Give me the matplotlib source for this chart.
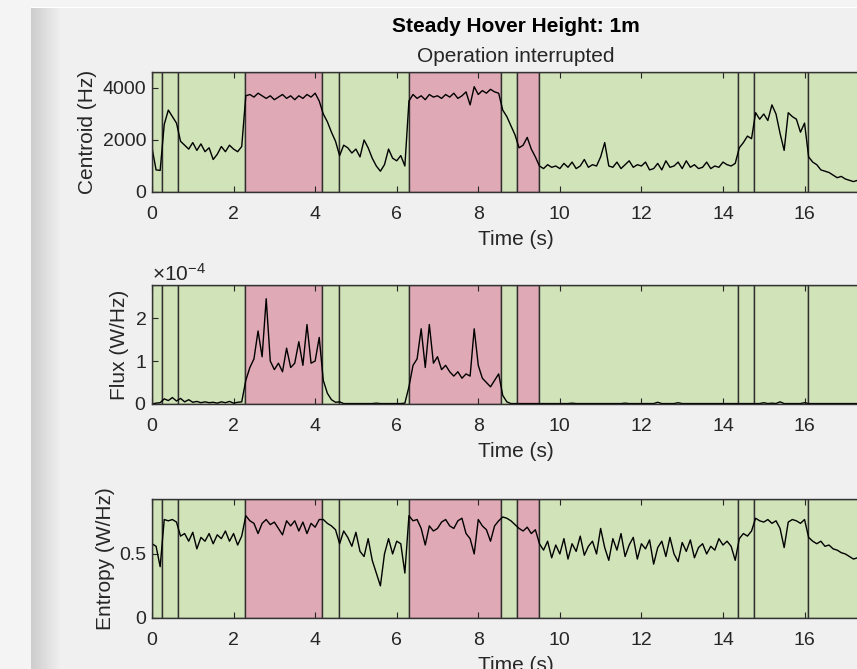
#!/usr/bin/env python
# coding: utf-8

# Steady hover: centroid, flux and entropy of the rotor noise over time,
# with the detected operating segments shaded behind each trace.

import numpy             as np
import matplotlib        as mpl
mpl.use("Agg")
import matplotlib.pyplot as plt
from matplotlib.patches import Rectangle
from matplotlib.ticker  import ScalarFormatter


# Samples every 0.1 s
dt = 0.1

centroid = [
    1700,  850,  830, 2600, 3150, 2900, 2650, 1950, 1800, 1650,
    1900, 1600, 1850, 1550, 1700, 1250, 1450, 1750, 1550, 1800,
    1650, 1550, 1750, 3700, 3750, 3650, 3800, 3700, 3600, 3700,
    3550, 3650, 3750, 3600, 3700, 3550, 3700, 3600, 3750, 3650,
    3800, 3500, 3000, 2700, 2300, 1950, 1400, 1800, 1700, 1500,
    1650, 1350, 2000, 1700, 1300, 1000,  800, 1050, 1650, 1300,
    1200, 1400, 1000, 3500, 3750, 3600, 3700, 3550, 3750, 3650,
    3700, 3600, 3750, 3650, 3800, 3600, 3700, 3850, 3350, 4050,
    3750, 3900, 3800, 3950, 3850, 3800, 3150, 2900, 2550, 2200,
    1700, 1800, 2100, 1650, 1350, 1000,  900, 1050,  950, 1000,
     900, 1100,  950, 1150,  900, 1000, 1250,  950, 1050, 1000,
    1350, 1900, 1000,  950, 1150,  900, 1050, 1200,  950, 1050,
    1000, 1150,  850,  900, 1100,  850, 1200,  950, 1000, 1150,
     900, 1200,  950, 1050,  900,  950, 1150,  900, 1000,  950,
    1150, 1050, 1000, 1100, 1700, 1900, 2150, 2050, 3050, 2800,
    3000, 2750, 3350, 3000, 2250, 1600, 3050, 2900, 2800, 2300,
    2650, 1350, 1150, 1050,  850,  800,  750,  650,  550,  600,
     500,  450,  400,  450,  400,  380,  420,  400,  380,
]

# Flux in units of 1e-4 W/Hz
flux_e4 = [
    0.00, 0.02, 0.03, 0.12, 0.08, 0.15, 0.07, 0.13, 0.05, 0.10,
    0.04, 0.06, 0.03, 0.05, 0.03, 0.04, 0.02, 0.05, 0.03, 0.06,
    0.02, 0.04, 0.05, 0.55, 0.85, 1.05, 1.70, 1.10, 2.45, 1.00,
    0.80, 0.95, 0.75, 1.30, 0.85, 0.95, 1.45, 0.90, 1.85, 0.95,
    1.00, 1.55, 0.55, 0.25, 0.10, 0.04, 0.05, 0.01, 0.01, 0.01,
    0.01, 0.01, 0.01, 0.01, 0.01, 0.02, 0.01, 0.01, 0.01, 0.01,
    0.01, 0.01, 0.02, 0.40, 0.90, 1.05, 1.75, 0.85, 1.85, 0.95,
    1.10, 0.80, 0.90, 0.75, 0.65, 0.75, 0.60, 0.70, 0.65, 1.75,
    0.90, 0.60, 0.50, 0.40, 0.55, 0.70, 0.20, 0.05, 0.01, 0.01,
    0.01, 0.01, 0.01, 0.01, 0.01, 0.01, 0.01, 0.01, 0.01, 0.01,
    0.01, 0.01, 0.01, 0.02, 0.01, 0.01, 0.01, 0.01, 0.01, 0.01,
    0.01, 0.01, 0.01, 0.01, 0.01, 0.01, 0.02, 0.01, 0.01, 0.01,
    0.01, 0.01, 0.01, 0.01, 0.04, 0.01, 0.01, 0.01, 0.01, 0.03,
    0.01, 0.01, 0.01, 0.01, 0.01, 0.01, 0.01, 0.01, 0.01, 0.01,
    0.01, 0.01, 0.01, 0.01, 0.01, 0.01, 0.01, 0.01, 0.01, 0.01,
    0.03, 0.01, 0.02, 0.01, 0.05, 0.01, 0.01, 0.01, 0.01, 0.01,
    0.03, 0.01, 0.01, 0.01, 0.01, 0.01, 0.01, 0.01, 0.01, 0.01,
    0.01, 0.01, 0.01, 0.01, 0.01, 0.01, 0.01, 0.01, 0.01,
]

entropy = [
    0.58, 0.56, 0.40, 0.77, 0.76, 0.77, 0.75, 0.64, 0.66, 0.60,
    0.67, 0.54, 0.63, 0.60, 0.66, 0.58, 0.65, 0.62, 0.68, 0.60,
    0.66, 0.57, 0.64, 0.80, 0.76, 0.74, 0.66, 0.74, 0.77, 0.73,
    0.75, 0.70, 0.65, 0.76, 0.72, 0.76, 0.68, 0.75, 0.66, 0.74,
    0.71, 0.77, 0.77, 0.74, 0.72, 0.69, 0.58, 0.68, 0.63, 0.56,
    0.67, 0.52, 0.48, 0.62, 0.45, 0.35, 0.25, 0.50, 0.62, 0.50,
    0.60, 0.58, 0.35, 0.80, 0.76, 0.77, 0.70, 0.57, 0.72, 0.68,
    0.70, 0.75, 0.77, 0.72, 0.70, 0.76, 0.78, 0.66, 0.62, 0.50,
    0.77, 0.72, 0.69, 0.60, 0.72, 0.76, 0.79, 0.78, 0.76, 0.73,
    0.70, 0.68, 0.71, 0.66, 0.69, 0.58, 0.53, 0.60, 0.47, 0.57,
    0.50, 0.62, 0.46, 0.58, 0.52, 0.64, 0.49, 0.56, 0.60, 0.50,
    0.70, 0.55, 0.45, 0.62, 0.53, 0.66, 0.48, 0.57, 0.63, 0.46,
    0.58, 0.54, 0.61, 0.42, 0.55, 0.60, 0.48, 0.63, 0.50, 0.44,
    0.59, 0.52, 0.61, 0.47, 0.55, 0.58, 0.50, 0.56, 0.53, 0.62,
    0.57, 0.60, 0.56, 0.45, 0.62, 0.66, 0.64, 0.68, 0.78, 0.76,
    0.75, 0.77, 0.74, 0.76, 0.70, 0.55, 0.75, 0.77, 0.76, 0.74,
    0.77, 0.63, 0.60, 0.58, 0.60, 0.56, 0.57, 0.54, 0.53, 0.51,
    0.50, 0.48, 0.46, 0.47, 0.45, 0.44, 0.45, 0.43, 0.42,
]

# Segment boundaries (s) and their state
seg_edges  = [0, 0.25, 0.63, 2.28, 4.16, 4.58, 6.29, 8.56, 8.94, 9.49,
              14.38, 14.75, 16.09, 17.85]
seg_states = ["ok", "ok", "ok", "fault", "ok", "ok", "fault", "ok", "fault",
              "ok", "ok", "ok", "ok"]

t = np.arange(len(centroid)) * dt

mpl.rcParams['font.family'] = ['Liberation Sans', 'DejaVu Sans']
mpl.rcParams['mathtext.fontset'] = 'custom'
mpl.rcParams['mathtext.rm'] = 'Liberation Sans'

TXT   = '#262626'
GREEN = '#d1e3b9'
PINK  = '#dfaab5'

W, H = 857, 669
fig = plt.figure(figsize=(W / 100, H / 100), dpi=100)
fig.patch.set_facecolor('#f0f0f0')

# window frame: outside strip, shadow, top highlight
bg = np.full((H, W, 3), 240 / 255.)
bg[:, :31] = 244 / 255.
bg[:7, :] = 244 / 255.
shade = np.linspace(205, 240, 30) / 255.
bg[7:, 31:61] = shade[None, :, None]
bg[7, 31:] = 1.0
ax_bg = fig.add_axes([0, 0, 1, 1], zorder=-5)
ax_bg.imshow(bg, aspect='auto', interpolation='nearest')
ax_bg.axis('off')


def px(left, top, right, bottom):
    return [left / W, 1 - bottom / H, (right - left) / W, (bottom - top) / H]


def shade_segments(ax, ymax):
    for i, state in enumerate(seg_states):
        x0, x1 = seg_edges[i], seg_edges[i + 1]
        ax.add_patch(Rectangle((x0, 0), x1 - x0, ymax,
                               facecolor=PINK if state == "fault" else GREEN,
                               edgecolor='#2f2f2f', linewidth=1.0, zorder=1))


def style(ax, ylabel, label_x):
    ax.set_xlim(0, 17.85)
    ax.set_xticks(range(0, 17, 2))
    ax.tick_params(direction='in', top=True, right=True, length=4,
                   labelsize=14, colors=TXT, width=0.8)
    ax.tick_params(axis='x', pad=10)
    ax.tick_params(axis='y', pad=4)
    for s in ax.spines.values():
        s.set_color('#333333')
        s.set_linewidth(1.0)
        s.set_zorder(5)
    ax.set_xlabel("Time (s)", fontsize=15, color=TXT, labelpad=5)
    ax.set_ylabel(ylabel, fontsize=15, color=TXT)
    ax.yaxis.set_label_coords(label_x, 0.5)


# 1. Centroid
ax1 = fig.add_axes(px(152, 72, 880, 192))
ymax1 = 4615
shade_segments(ax1, ymax1)
ax1.plot(t, centroid, color='black', linewidth=1.0, zorder=3)
ax1.set_ylim(0, ymax1)
ax1.set_yticks([0, 2000, 4000])
style(ax1, "Centroid (Hz)", -0.076)

# Two-line title above the top panel
fig.text(516 / W, 1 - 26 / H, "Steady Hover Height: 1m",
         fontsize=15, fontweight='bold', color='black', ha='center', va='center')
fig.text(516 / W, 1 - 56 / H, "Operation interrupted",
         fontsize=15, color=TXT, ha='center', va='center')

# 2. Flux
ax2 = fig.add_axes(px(152, 285, 880, 404))
ymax2 = 2.77e-4
shade_segments(ax2, ymax2)
ax2.plot(t, np.array(flux_e4) * 1e-4, color='black', linewidth=1.0, zorder=3)
ax2.set_ylim(0, ymax2)
ax2.set_yticks([0, 1e-4, 2e-4])
fmt = ScalarFormatter(useMathText=True)
fmt.set_powerlimits((-3, 3))
ax2.yaxis.set_major_formatter(fmt)
ax2.yaxis.get_offset_text().set_fontsize(15)
ax2.yaxis.get_offset_text().set_color(TXT)
style(ax2, "Flux (W/Hz)", -0.031)

# 3. Entropy
ax3 = fig.add_axes(px(152, 499, 880, 617.7))
ymax3 = 0.931
shade_segments(ax3, ymax3)
ax3.plot(t, entropy, color='black', linewidth=1.0, zorder=3)
ax3.set_ylim(0, ymax3)
ax3.set_yticks([0, 0.5])
ax3.set_yticklabels(["0", "0.5"])
style(ax3, "Entropy (W/Hz)", -0.051)

plt.savefig("out.png", dpi=100, facecolor=fig.get_facecolor())
